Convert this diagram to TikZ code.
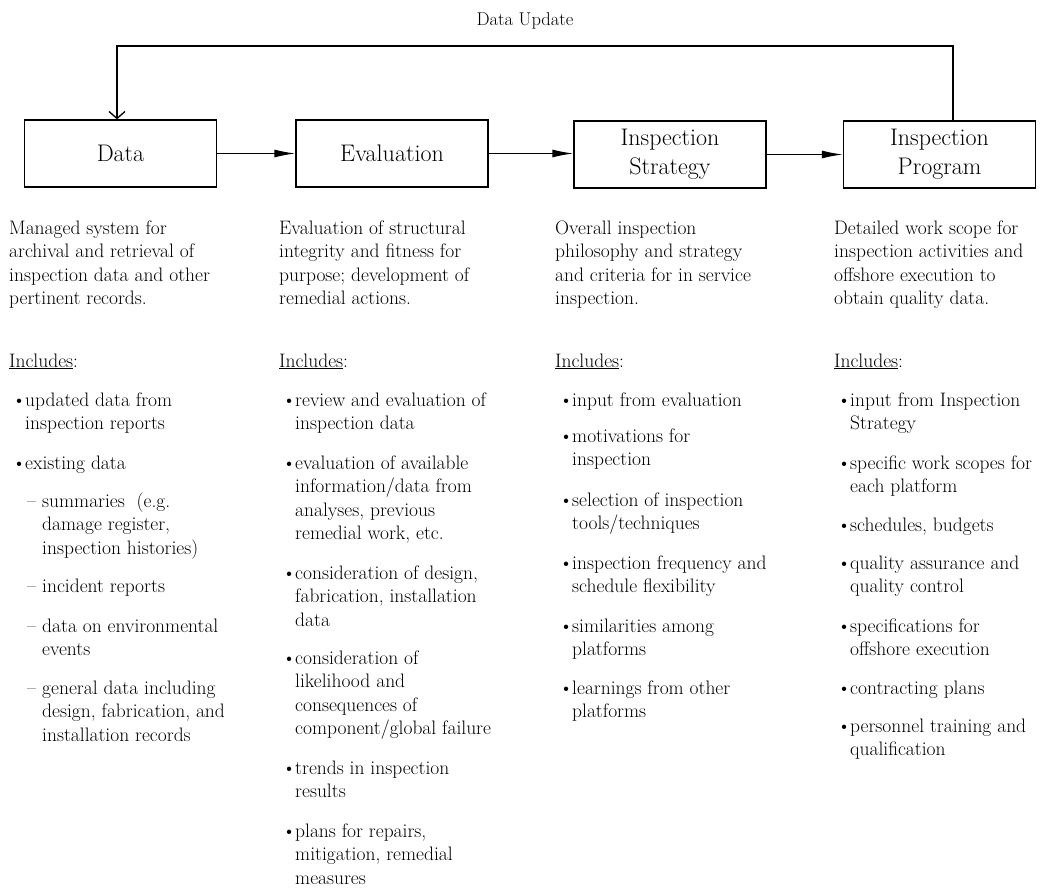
\documentclass[tikz,border=0pt]{standalone}
\usetikzlibrary{arrows.meta}
\newcommand\blk[1]{\begin{tabular}[t]{@{}l@{}}#1\end{tabular}}
\newcommand\itm[1]{\makebox[13pt][l]{\textbullet}\blk{#1}}
\newcommand\dashitm[1]{\makebox[15pt][l]{--}\blk{#1}}
\begin{document}
\begin{tikzpicture}[x=1pt,y=-1pt]
\tikzstyle{every node}+=[inner sep=0pt]
\tikzstyle{stage}=[draw, line width=1.3pt, minimum width=192pt, minimum height=67pt, align=center, font=\fontsize{24}{29}\selectfont]
\tikzstyle{txt}=[anchor=base west, font=\fontsize{19.5}{23.5}\selectfont]
\tikzstyle{flow}=[line width=1.3pt, -{Latex[length=21pt,width=8pt]}]
\useasboundingbox (0,0) rectangle (1052,888);
% stages
\node[stage] (data) at (120.5,153.5) {Data};
\node[stage] (eval) at (392,153.5) {Evaluation};
\node[stage] (strat) at (670,154.5) {Inspection\\Strategy};
\node[stage] (prog) at (939.5,154.5) {Inspection\\Program};
\draw[flow] (data.east) -- (eval.west);
\draw[flow] (eval.east) -- (eval.east -| strat.west);
\draw[flow] (strat.east) -- (strat.east -| prog.west);
% feedback loop
\node[font=\fontsize{18.5}{20}\selectfont] (upd) at (525,21) {Data Update};
\coordinate (fbr) at (953,46);
\coordinate (fbl) at (117,46);
\draw[line width=1.3pt, -{Straight Barb[length=7pt,width=16pt]}] (prog.north -| fbr) -- (fbr) -- (fbl) -- (data.north -| fbl);
% column 1
\node[txt] (d1) at (9,234) {\blk{Managed system for\\archival and retrieval of\\inspection data and other\\pertinent records.}};
\node[txt] (i1) at (9,367) {\underline{Includes}:};
\node[txt] (c1a) at (12,406) {\itm{updated data from\\inspection reports}};
\node[txt] (c1b) at (12,469) {\itm{existing data}};
\node[txt] (c1c) at (27,507) {\dashitm{summaries\ \ (e.g.\\damage register,\\inspection histories)}};
\node[txt] (c1d) at (27,592) {\dashitm{incident reports}};
\node[txt] (c1e) at (27,632) {\dashitm{data on environmental\\events}};
\node[txt] (c1f) at (27,694) {\dashitm{general data including\\design, fabrication, and\\installation records}};
% column 2
\node[txt] (d2) at (279,234) {\blk{Evaluation of structural\\integrity and fitness for\\purpose; development of\\remedial actions.}};
\node[txt] (i2) at (279,367) {\underline{Includes}:};
\node[txt] (c2a) at (282,406) {\itm{review and evaluation of\\inspection data}};
\node[txt] (c2b) at (282,469) {\itm{evaluation of available\\information/data from\\analyses, previous\\remedial work, etc.}};
\node[txt] (c2c) at (282,579) {\itm{consideration of design,\\fabrication, installation\\data}};
\node[txt] (c2d) at (282,664) {\itm{consideration of\\likelihood and\\consequences of\\component/global failure}};
\node[txt] (c2e) at (282,774) {\itm{trends in inspection\\results}};
\node[txt] (c2f) at (282,837) {\itm{plans for repairs,\\mitigation, remedial\\measures}};
% column 3
\node[txt] (d3) at (555,234) {\blk{Overall inspection\\philosophy and strategy\\and criteria for in service\\inspection.}};
\node[txt] (i3) at (555,367) {\underline{Includes}:};
\node[txt] (c3a) at (559,406) {\itm{input from evaluation}};
\node[txt] (c3b) at (559,442) {\itm{motivations for\\inspection}};
\node[txt] (c3c) at (559,506) {\itm{selection of inspection\\tools/techniques}};
\node[txt] (c3d) at (559,569) {\itm{inspection frequency and\\schedule flexibility}};
\node[txt] (c3e) at (559,632) {\itm{similarities among\\platforms}};
\node[txt] (c3f) at (559,694) {\itm{learnings from other\\platforms}};
% column 4
\node[txt] (d4) at (834,234) {\blk{Detailed work scope for\\inspection activities and\\offshore execution to\\obtain quality data.}};
\node[txt] (i4) at (834,367) {\underline{Includes}:};
\node[txt] (c4a) at (837,406) {\itm{input from Inspection\\Strategy}};
\node[txt] (c4b) at (837,469) {\itm{specific work scopes for\\each platform}};
\node[txt] (c4c) at (837,531) {\itm{schedules, budgets}};
\node[txt] (c4d) at (837,569) {\itm{quality assurance and\\quality control}};
\node[txt] (c4e) at (837,632) {\itm{specifications for\\offshore execution}};
\node[txt] (c4f) at (837,694) {\itm{contracting plans}};
\node[txt] (c4g) at (837,732) {\itm{personnel training and\\qualification}};
\end{tikzpicture}
\end{document}
